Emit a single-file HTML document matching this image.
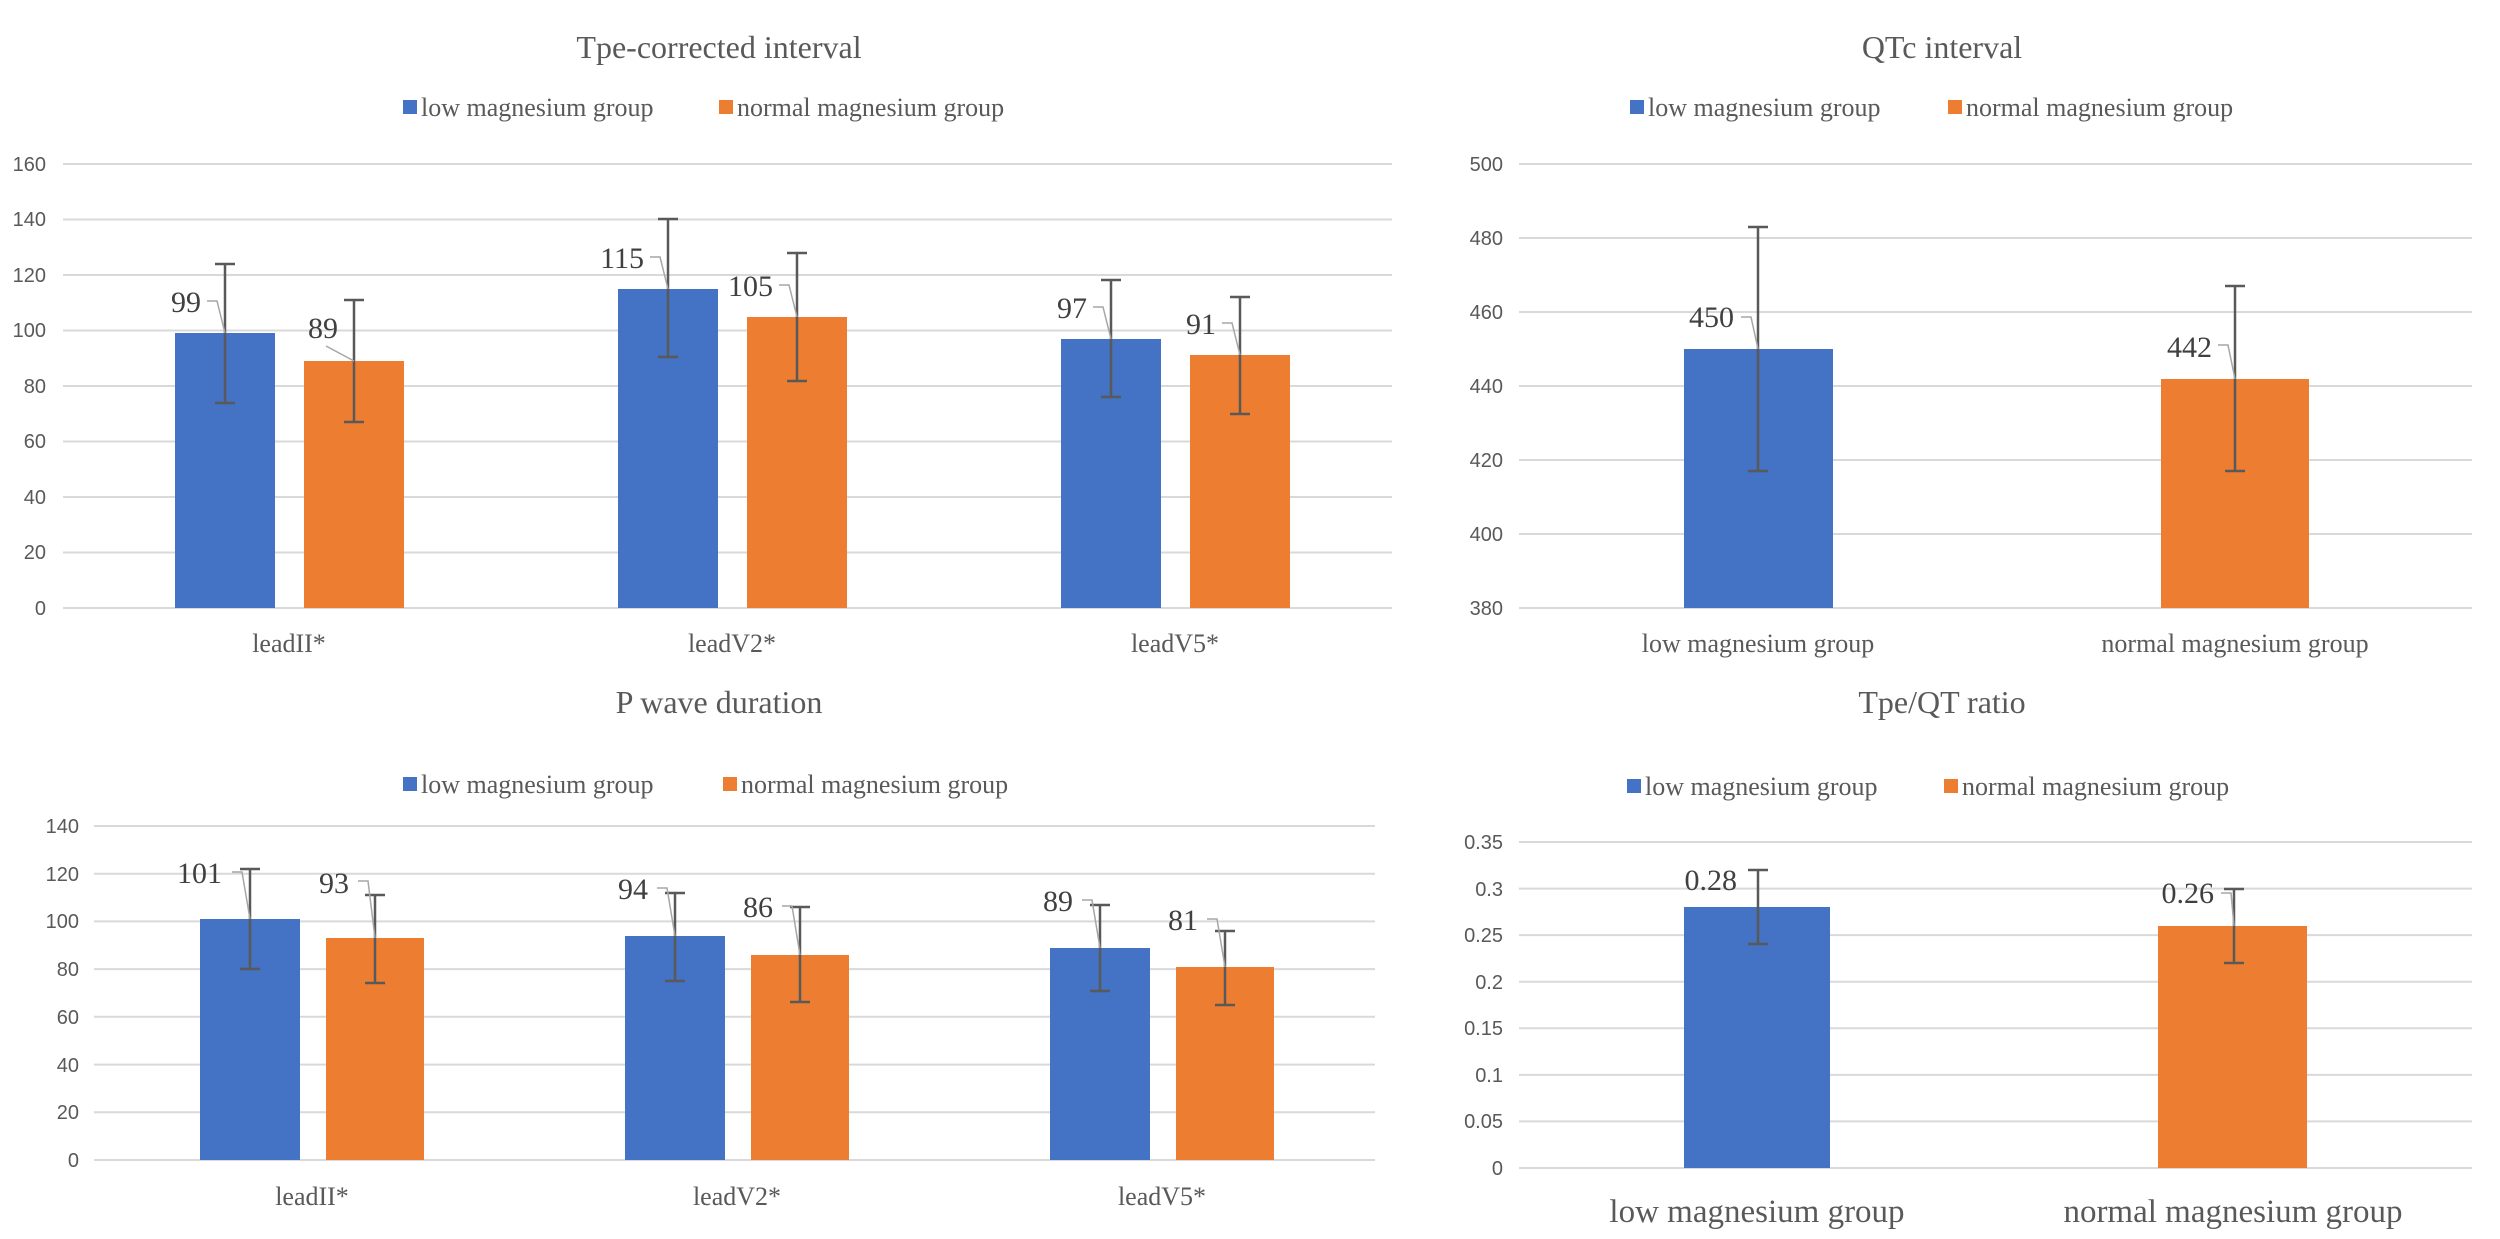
<!DOCTYPE html>
<html><head><meta charset="utf-8"><style>
html,body{margin:0;padding:0;background:#fff;}
svg{display:block;}
text{font-family:"Liberation Serif",serif;fill:#595959;}
.t{font-size:32px;text-anchor:middle;}
.lg{font-size:26px;}
.tk{font-size:20px;text-anchor:end;font-family:"Liberation Sans",sans-serif;}
.ct{font-size:26px;text-anchor:middle;}
.ct2{font-size:33px;text-anchor:middle;}
.dl{font-size:30px;text-anchor:end;fill:#404040;}
.g{stroke:#d9d9d9;stroke-width:2;}
.b{fill:#4472c4;}
.o{fill:#ed7d31;}
.e{stroke:#595959;stroke-width:2.5;fill:none;}
.ld{stroke:#a6a6a6;stroke-width:1.5;fill:none;}
</style></head><body>
<svg width="2500" height="1239" viewBox="0 0 2500 1239" xmlns="http://www.w3.org/2000/svg">
<rect width="2500" height="1239" fill="#fff"/>

<!-- ===== Top-left: Tpe-corrected interval ===== -->
<text class="t" x="719" y="58">Tpe-corrected interval</text>
<rect class="b" x="403" y="100" width="14" height="14"/><text class="lg" x="421" y="116">low magnesium group</text>
<rect class="o" x="719" y="100" width="14" height="14"/><text class="lg" x="737" y="116">normal magnesium group</text>
<g class="g">
<line x1="63" x2="1392" y1="608" y2="608"/><line x1="63" x2="1392" y1="552.5" y2="552.5"/><line x1="63" x2="1392" y1="497" y2="497"/><line x1="63" x2="1392" y1="441.5" y2="441.5"/><line x1="63" x2="1392" y1="386" y2="386"/><line x1="63" x2="1392" y1="330.5" y2="330.5"/><line x1="63" x2="1392" y1="275" y2="275"/><line x1="63" x2="1392" y1="219.5" y2="219.5"/><line x1="63" x2="1392" y1="164" y2="164"/>
</g>
<text class="tk" x="46" y="615">0</text><text class="tk" x="46" y="559">20</text><text class="tk" x="46" y="504">40</text><text class="tk" x="46" y="448">60</text><text class="tk" x="46" y="393">80</text><text class="tk" x="46" y="337">100</text><text class="tk" x="46" y="282">120</text><text class="tk" x="46" y="226">140</text><text class="tk" x="46" y="171">160</text>
<rect class="b" x="175" y="333" width="100" height="275"/><rect class="o" x="304" y="361" width="100" height="247"/>
<rect class="b" x="618" y="289" width="100" height="319"/><rect class="o" x="747" y="317" width="100" height="291"/>
<rect class="b" x="1061" y="339" width="100" height="269"/><rect class="o" x="1190" y="355" width="100" height="253"/>
<g class="e">
<path d="M225 264V403M215 264H235M215 403H235"/>
<path d="M354 300V422M344 300H364M344 422H364"/>
<path d="M668 219V357M658 219H678M658 357H678"/>
<path d="M797 253V381M787 253H807M787 381H807"/>
<path d="M1111 280V397M1101 280H1121M1101 397H1121"/>
<path d="M1240 297V414M1230 297H1250M1230 414H1250"/>
</g>
<g class="ld">
<path d="M207 301H217L225 333"/><path d="M326 346L354 361"/>
<path d="M650 257H660L668 289"/><path d="M779 285H789L797 317"/>
<path d="M1093 307H1103L1111 339"/><path d="M1222 323H1232L1240 355"/>
</g>
<text class="dl" x="201" y="312">99</text><text class="dl" x="338" y="338">89</text>
<text class="dl" x="644" y="268">115</text><text class="dl" x="773" y="296">105</text>
<text class="dl" x="1087" y="318">97</text><text class="dl" x="1216" y="334">91</text>
<text class="ct" x="289" y="652">leadII*</text><text class="ct" x="732" y="652">leadV2*</text><text class="ct" x="1175" y="652">leadV5*</text>

<!-- ===== Top-right: QTc interval ===== -->
<text class="t" x="1942" y="58">QTc interval</text>
<rect class="b" x="1630" y="100" width="14" height="14"/><text class="lg" x="1648" y="116">low magnesium group</text>
<rect class="o" x="1948" y="100" width="14" height="14"/><text class="lg" x="1966" y="116">normal magnesium group</text>
<g class="g">
<line x1="1519" x2="2472" y1="608" y2="608"/><line x1="1519" x2="2472" y1="534" y2="534"/><line x1="1519" x2="2472" y1="460" y2="460"/><line x1="1519" x2="2472" y1="386" y2="386"/><line x1="1519" x2="2472" y1="312" y2="312"/><line x1="1519" x2="2472" y1="238" y2="238"/><line x1="1519" x2="2472" y1="164" y2="164"/>
</g>
<text class="tk" x="1503" y="615">380</text><text class="tk" x="1503" y="541">400</text><text class="tk" x="1503" y="467">420</text><text class="tk" x="1503" y="393">440</text><text class="tk" x="1503" y="319">460</text><text class="tk" x="1503" y="245">480</text><text class="tk" x="1503" y="171">500</text>
<rect class="b" x="1684" y="349" width="149" height="259"/><rect class="o" x="2161" y="379" width="148" height="229"/>
<g class="e">
<path d="M1758 227V471M1748 227H1768M1748 471H1768"/>
<path d="M2235 286V471M2225 286H2245M2225 471H2245"/>
</g>
<g class="ld"><path d="M1741 317H1751L1758 349"/><path d="M2218 345H2228L2235 379"/></g>
<text class="dl" x="1734" y="327">450</text><text class="dl" x="2212" y="357">442</text>
<text class="ct" x="1758" y="652">low magnesium group</text><text class="ct" x="2235" y="652">normal magnesium group</text>

<!-- ===== Bottom-left: P wave duration ===== -->
<text class="t" x="719" y="713">P wave duration</text>
<rect class="b" x="403" y="777" width="14" height="14"/><text class="lg" x="421" y="793">low magnesium group</text>
<rect class="o" x="723" y="777" width="14" height="14"/><text class="lg" x="741" y="793">normal magnesium group</text>
<g class="g">
<line x1="94" x2="1375" y1="1160" y2="1160"/><line x1="94" x2="1375" y1="1112.3" y2="1112.3"/><line x1="94" x2="1375" y1="1064.6" y2="1064.6"/><line x1="94" x2="1375" y1="1016.8" y2="1016.8"/><line x1="94" x2="1375" y1="969.1" y2="969.1"/><line x1="94" x2="1375" y1="921.4" y2="921.4"/><line x1="94" x2="1375" y1="873.7" y2="873.7"/><line x1="94" x2="1375" y1="826" y2="826"/>
</g>
<text class="tk" x="79" y="1167">0</text><text class="tk" x="79" y="1119">20</text><text class="tk" x="79" y="1072">40</text><text class="tk" x="79" y="1024">60</text><text class="tk" x="79" y="976">80</text><text class="tk" x="79" y="928">100</text><text class="tk" x="79" y="881">120</text><text class="tk" x="79" y="833">140</text>
<rect class="b" x="200" y="919" width="100" height="241"/><rect class="o" x="326" y="938" width="98" height="222"/>
<rect class="b" x="625" y="936" width="100" height="224"/><rect class="o" x="751" y="955" width="98" height="205"/>
<rect class="b" x="1050" y="948" width="100" height="212"/><rect class="o" x="1176" y="967" width="98" height="193"/>
<g class="e">
<path d="M250 869V969M240 869H260M240 969H260"/>
<path d="M375 895V983M365 895H385M365 983H385"/>
<path d="M675 893V981M665 893H685M665 981H685"/>
<path d="M800 907V1002M790 907H810M790 1002H810"/>
<path d="M1100 905V991M1090 905H1110M1090 991H1110"/>
<path d="M1225 931V1005M1215 931H1235M1215 1005H1235"/>
</g>
<g class="ld">
<path d="M232 872H242L250 919"/><path d="M358 881H368L375 938"/>
<path d="M657 888H667L675 936"/><path d="M782 906H792L800 955"/>
<path d="M1082 900H1092L1100 948"/><path d="M1207 919H1217L1225 967"/>
</g>
<text class="dl" x="222" y="883">101</text><text class="dl" x="349" y="893">93</text>
<text class="dl" x="648" y="899">94</text><text class="dl" x="773" y="917">86</text>
<text class="dl" x="1073" y="911">89</text><text class="dl" x="1198" y="930">81</text>
<text class="ct" x="312" y="1205">leadII*</text><text class="ct" x="737" y="1205">leadV2*</text><text class="ct" x="1162" y="1205">leadV5*</text>

<!-- ===== Bottom-right: Tpe/QT ratio ===== -->
<text class="t" x="1942" y="713">Tpe/QT ratio</text>
<rect class="b" x="1627" y="779" width="14" height="14"/><text class="lg" x="1645" y="795">low magnesium group</text>
<rect class="o" x="1944" y="779" width="14" height="14"/><text class="lg" x="1962" y="795">normal magnesium group</text>
<g class="g">
<line x1="1519" x2="2472" y1="1168" y2="1168"/><line x1="1519" x2="2472" y1="1121.4" y2="1121.4"/><line x1="1519" x2="2472" y1="1074.9" y2="1074.9"/><line x1="1519" x2="2472" y1="1028.3" y2="1028.3"/><line x1="1519" x2="2472" y1="981.7" y2="981.7"/><line x1="1519" x2="2472" y1="935.1" y2="935.1"/><line x1="1519" x2="2472" y1="888.6" y2="888.6"/><line x1="1519" x2="2472" y1="842" y2="842"/>
</g>
<text class="tk" x="1503" y="1175">0</text><text class="tk" x="1503" y="1128">0.05</text><text class="tk" x="1503" y="1082">0.1</text><text class="tk" x="1503" y="1035">0.15</text><text class="tk" x="1503" y="989">0.2</text><text class="tk" x="1503" y="942">0.25</text><text class="tk" x="1503" y="896">0.3</text><text class="tk" x="1503" y="849">0.35</text>
<rect class="b" x="1684" y="907" width="146" height="261"/><rect class="o" x="2158" y="926" width="149" height="242"/>
<g class="e">
<path d="M1758 870V944M1748 870H1768M1748 944H1768"/>
<path d="M2234 889V963M2224 889H2244M2224 963H2244"/>
</g>
<g class="ld"><path d="M2221 893H2231L2234 926"/></g>
<text class="dl" x="1737" y="890">0.28</text><text class="dl" x="2214" y="903">0.26</text>
<text class="ct2" x="1757" y="1222">low magnesium group</text><text class="ct2" x="2233" y="1222">normal magnesium group</text>
</svg>
</body></html>
